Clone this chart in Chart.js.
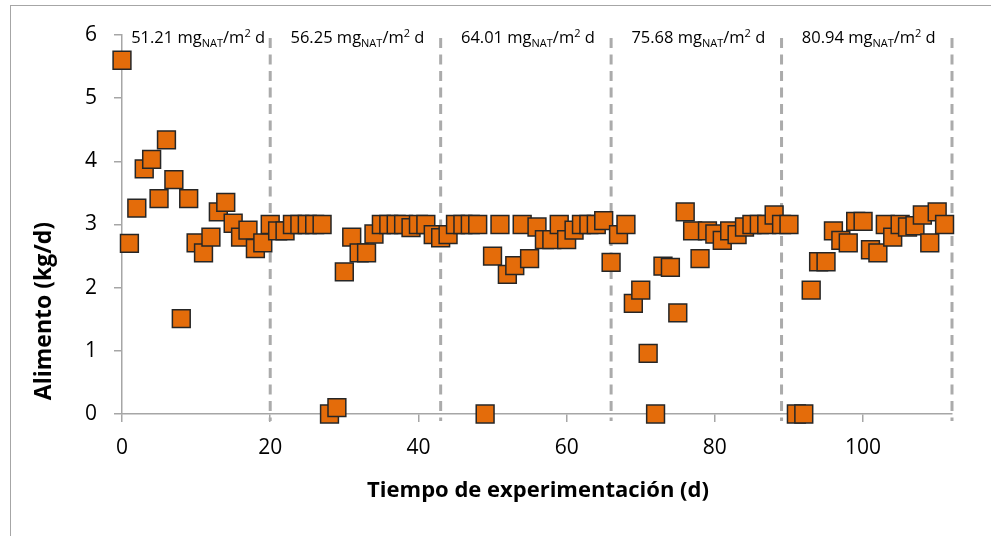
<!DOCTYPE html>
<html><head><meta charset="utf-8">
<script src="https://cdn.jsdelivr.net/npm/chart.js@4/dist/chart.umd.min.js"></script>
<style>
html,body{margin:0;padding:0;background:#fff;}
#wrap{position:relative;width:991px;height:536px;overflow:hidden;background:#fff;}
#frame{position:absolute;left:10px;top:5px;width:1100px;height:700px;border:1.5px solid #A6A6A6;box-sizing:border-box;}
canvas{position:absolute;left:0;top:0;}
</style></head><body>
<div id="wrap"><div id="frame"></div><canvas id="c" width="991" height="536"></canvas></div>
<script>
// ---- data ----
const days = [0,1,2,3,4,5,6,7,8,9,10,11,12,13,14,15,16,17,18,19,
  20,21,22,23,24,25,26,27,28,29,30,31,32,33,34,35,36,37,38,39,
  40,41,42,43,44,45,46,47,48,49,50,51,52,53,54,55,56,57,58,59,
  60,61,62,63,64,65,66,67,68,69,70,71,72,73,74,75,76,77,78,79,
  80,81,82,83,84,85,86,87,88,89,90,91,92,93,94,95,96,97,98,99,
  100,101,102,103,104,105,106,107,108,109,110,111];
const feed = [5.6,2.7,3.26,3.88,4.03,3.41,4.34,3.71,1.51,3.41,
  2.71,2.55,2.8,3.2,3.35,3.02,2.8,2.91,2.62,2.71,
  3.0,2.9,2.9,3.0,3.0,3.0,3.0,3.0,0,0.1,
  2.25,2.8,2.55,2.55,2.85,3.0,3.0,3.0,3.0,2.95,
  3.0,3.0,2.84,2.79,2.84,3.0,3.0,3.0,3.0,0,
  2.5,3.0,2.21,2.35,3.0,2.46,2.96,2.76,2.76,3.0,
  2.76,2.91,3.0,3.0,3.0,3.06,2.4,2.84,3.0,1.75,
  1.96,0.96,0,2.34,2.32,1.6,3.2,2.9,2.46,2.9,
  2.85,2.75,2.9,2.84,2.96,3.0,3.0,3.0,3.15,3.0,
  3.0,0,0,1.96,2.41,2.41,2.9,2.75,2.71,3.05,
  3.05,2.6,2.55,3.0,2.8,3.0,2.96,2.98,3.15,2.71,
  3.2,3.0];
const phaseBounds = [0,20,43,66,89,112];
const phaseDoses = ["51.21","56.25","64.01","75.68","80.94"];
const xTicks = [0,20,40,60,80,100];
const yTicks = [0,1,2,3,4,5,6];
const xTitle = "Tiempo de experimentación (d)";
const yTitle = "Alimento (kg/d)";

const FONT = "'Open Sans', 'Noto Sans', sans-serif";
const AXIS = '#A6A6A6';

const overlay = {
  id: 'overlay',
  beforeDatasetsDraw(chart) {
    const ctx = chart.ctx, xs = chart.scales.x, ys = chart.scales.y;
    ctx.save();
    ctx.strokeStyle = '#ABABAB';
    ctx.lineWidth = 3;
    ctx.setLineDash([10, 6.5]);
    ctx.lineCap = 'butt';
    const yTop = ys.getPixelForValue(6) + 3;
    const yBot = ys.getPixelForValue(0) + 7;
    phaseBounds.slice(1).forEach(b => {
      const x = xs.getPixelForValue(b);
      ctx.beginPath(); ctx.moveTo(x, yTop); ctx.lineTo(x, yBot); ctx.stroke();
    });
    ctx.restore();
  },
  afterDraw(chart) {
    const ctx = chart.ctx, xs = chart.scales.x, ys = chart.scales.y;
    ctx.save();
    ctx.fillStyle = '#000';
    ctx.textBaseline = 'alphabetic';
    const big = "16.5px " + FONT, small = "11px " + FONT;
    const base = ys.getPixelForValue(6) + 8;
    phaseDoses.forEach((dose, i) => {
      const parts = [
        {t: dose + " mg", f: big, dy: 0},
        {t: "NAT", f: small, dy: 4},
        {t: "/m", f: big, dy: 0},
        {t: "2", f: small, dy: -6},
        {t: " d", f: big, dy: 0}
      ];
      let w = 0;
      parts.forEach(p => { ctx.font = p.f; p.w = ctx.measureText(p.t).width; w += p.w; });
      const cx = xs.getPixelForValue((phaseBounds[i] + phaseBounds[i+1]) / 2) + 2;
      let x = cx - w / 2;
      parts.forEach(p => { ctx.font = p.f; ctx.textAlign = 'left'; ctx.fillText(p.t, x, base + p.dy); x += p.w; });
    });
    // axis titles
    ctx.font = "bold 22px " + FONT;
    ctx.textAlign = 'center';
    ctx.textBaseline = 'middle';
    ctx.fillText(xTitle, (chart.chartArea.left + chart.chartArea.right) / 2 + 1, 491);
    ctx.translate(44, 311);
    ctx.rotate(-Math.PI / 2);
    ctx.font = "bold 23px " + FONT;
    ctx.fillText(yTitle, 0, 0);
    ctx.restore();
  }
};

new Chart(document.getElementById('c'), {
  type: 'scatter',
  data: {
    datasets: [{
      data: days.map((d, i) => ({x: d, y: feed[i]})),
      pointStyle: 'rect',
      pointRadius: 12.6,
      pointHoverRadius: 12.6,
      backgroundColor: '#E46C0A',
      borderColor: '#262626',
      borderWidth: 1.5,
      clip: false
    }]
  },
  options: {
    responsive: false,
    animation: false,
    events: [],
    layout: {padding: {left: 0, right: 39, top: 35, bottom: 0}},
    plugins: {legend: {display: false}, tooltip: {enabled: false}},
    scales: {
      x: {
        type: 'linear', min: 0, max: 112,
        afterBuildTicks: s => { s.ticks = xTicks.map(v => ({value: v})); },
        afterFit: s => { s.height = 122; },
        grid: {drawOnChartArea: false, drawTicks: true, tickLength: 8, color: AXIS, lineWidth: 1.5},
        border: {color: AXIS, width: 1.5},
        ticks: {font: {family: FONT, size: 21}, color: '#000', padding: 13, maxRotation: 0}
      },
      y: {
        min: 0, max: 6,
        afterBuildTicks: s => { s.ticks = yTicks.map(v => ({value: v})); },
        afterFit: s => { s.width = 122; },
        grid: {drawOnChartArea: false, drawTicks: true, tickLength: 8, color: AXIS, lineWidth: 1.5},
        border: {color: AXIS, width: 1.5},
        ticks: {font: {family: FONT, size: 21}, color: '#000', padding: 17}
      }
    }
  },
  plugins: [overlay]
});
</script>
</body></html>
